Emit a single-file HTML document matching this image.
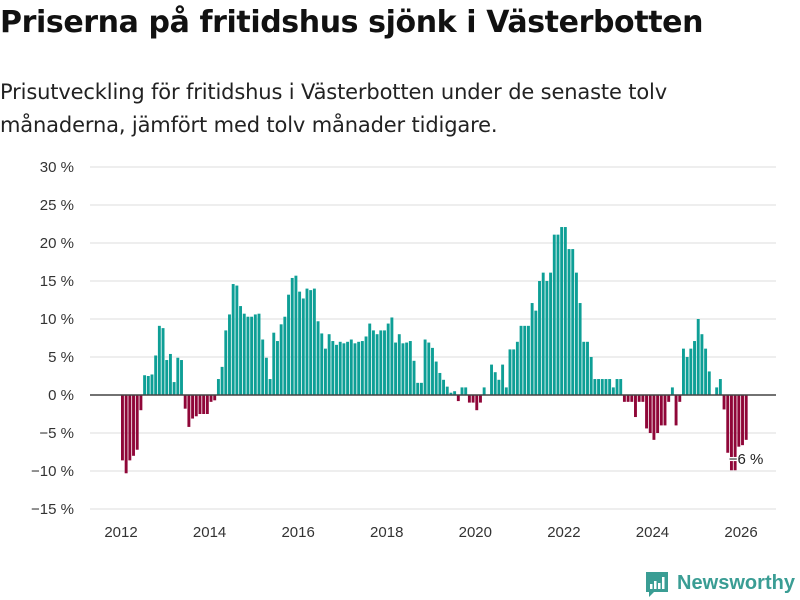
<!DOCTYPE html>
<html><head><meta charset="utf-8"><style>
body{margin:0;width:800px;height:600px;background:#fff;font-family:"Liberation Sans","DejaVu Sans",sans-serif;overflow:hidden;position:relative}
#title{position:absolute;left:0;top:5px;font-size:30px;font-weight:bold;color:#111;font-family:"DejaVu Sans","Liberation Sans",sans-serif;letter-spacing:-0.4px}
#sub{position:absolute;left:0;top:76px;font-size:21px;line-height:33px;color:#222;font-family:"DejaVu Sans","Liberation Sans",sans-serif;letter-spacing:-0.15px}
svg{position:absolute;left:0;top:0}
</style></head><body>
<div id="title">Priserna på fritidshus sjönk i Västerbotten</div>
<div id="sub">Prisutveckling för fritidshus i Västerbotten under de senaste tolv<br>månaderna, jämfört med tolv månader tidigare.</div>
<svg id="chart" width="800" height="600"></svg>
<script>
const yTicks=[30,25,20,15,10,5,0,-5,-10,-15];
const yTickLabels=["30 %","25 %","20 %","15 %","10 %","5 %","0 %","−5 %","−10 %","−15 %"];
const xYears=[2012,2014,2016,2018,2020,2022,2024,2026];
const startYear=2012;
const values=[-8.6,-10.3,-8.6,-8,-7.2,-2,2.6,2.5,2.7,5.2,9.1,8.8,4.6,5.4,1.7,4.9,4.6,-1.8,-4.2,-3.1,-2.8,-2.5,-2.5,-2.5,-0.9,-0.7,2.1,3.7,8.5,10.6,14.6,14.4,11.7,10.7,10.3,10.3,10.6,10.7,7.3,4.9,2.1,8.2,7.1,9.3,10.3,13.2,15.4,15.7,13.6,12.7,14,13.8,14,9.7,8.1,6.1,8,
7.1,6.6,7.0,6.8,7.0,7.3,6.8,7.0,7.1,7.7,9.4,8.5,8.0,8.5,8.5,9.4,10.2,6.9,8.0,6.8,6.9,7.1,4.5,1.6,
1.6,7.3,6.9,6.2,4.4,2.9,2.0,1.1,0.3,0.5,-0.8,1,1,-1,-1,-2,-1,1,0,4,3,2,4,1,6,6,7,9.1,9.1,9.1,12.1,11.1,15,16.1,15,16.1,21.1,21.1,22.1,22.1,19.2,19.2,16.1,12.1,7,7,5,
2.1,2.1,2.1,2.1,2.1,1.0,2.1,2.1,
-0.9,-0.9,-0.9,-2.9,-0.9,-0.9,-4.4,-5,-5.9,-5,-4,-4,-0.9,1,-4,-0.9,
6.1,5,6.1,7.1,10,8,6.1,3.1,0,1,2.1,
-1.9,-7.6,-9.9,-9.9,-6.8,-6.6,-5.9];
const lastLabel="−6 %";
const NS="http://www.w3.org/2000/svg";
const svg=document.getElementById('chart');
function y(v){return 395-v*7.6;}
function xm(i){return 121+i*(44.29/12);}
function xy(yr){return 121+(yr-startYear)*44.29;}
function mk(t,a){const e=document.createElementNS(NS,t);for(const k in a)e.setAttribute(k,a[k]);svg.appendChild(e);return e;}
yTicks.forEach((t,i)=>{
  if(t!==0){const g=mk('line',{x1:90,x2:776,y1:y(t),y2:y(t),stroke:'#ddd','stroke-width':1});
  
  }
  const l=mk('text',{x:74,y:y(t)+5,'text-anchor':'end','font-size':15,fill:'#333'});
  l.textContent=yTickLabels[i];
  
  
});
values.forEach((v,i)=>{
  const x0=xm(i);
  const r=mk('rect',{x:x0,width:2.9,y:Math.min(y(v),y(0)),height:Math.abs(y(v)-y(0)),fill:v>=0?'#0e9f96':'#8f0638'});
  
  
});
const z=mk('line',{x1:90,x2:776,y1:y(0),y2:y(0),stroke:'#444','stroke-width':1.5});


xYears.forEach(yr=>{
  const t=mk('text',{x:xy(yr),y:537,'text-anchor':'middle','font-size':15,fill:'#333'});
  t.textContent=yr;
  
  
});
const li=values.length-1;
const lb=mk('text',{x:xm(li)-16,y:y(values[li])+24,'font-size':15,fill:'#222',stroke:'#fff','stroke-width':3,'paint-order':'stroke'});
lb.textContent=lastLabel;


const lg=mk('g',{});


const ic=document.createElementNS(NS,'path');ic.setAttribute('d','M646 572 h22 v20 h-14 l-5 5 v-5 h-3 z');ic.setAttribute('fill','#3a9d94');lg.appendChild(ic);
[[650,584,2.5,5],[654,581,2.5,8],[658,583,2.5,6],[662,577,2.5,12]].forEach(b=>{const r=document.createElementNS(NS,'rect');r.setAttribute('x',b[0]);r.setAttribute('y',b[1]);r.setAttribute('width',b[2]);r.setAttribute('height',b[3]);r.setAttribute('fill','#fff');lg.appendChild(r);});
const lt=document.createElementNS(NS,'text');lt.setAttribute('x',677);lt.setAttribute('y',589);lt.setAttribute('font-size',20);lt.setAttribute('font-weight','bold');lt.setAttribute('fill','#3a9d94');lt.setAttribute('textLength',118);lt.textContent='Newsworthy';lg.appendChild(lt);
</script>
</body></html>
